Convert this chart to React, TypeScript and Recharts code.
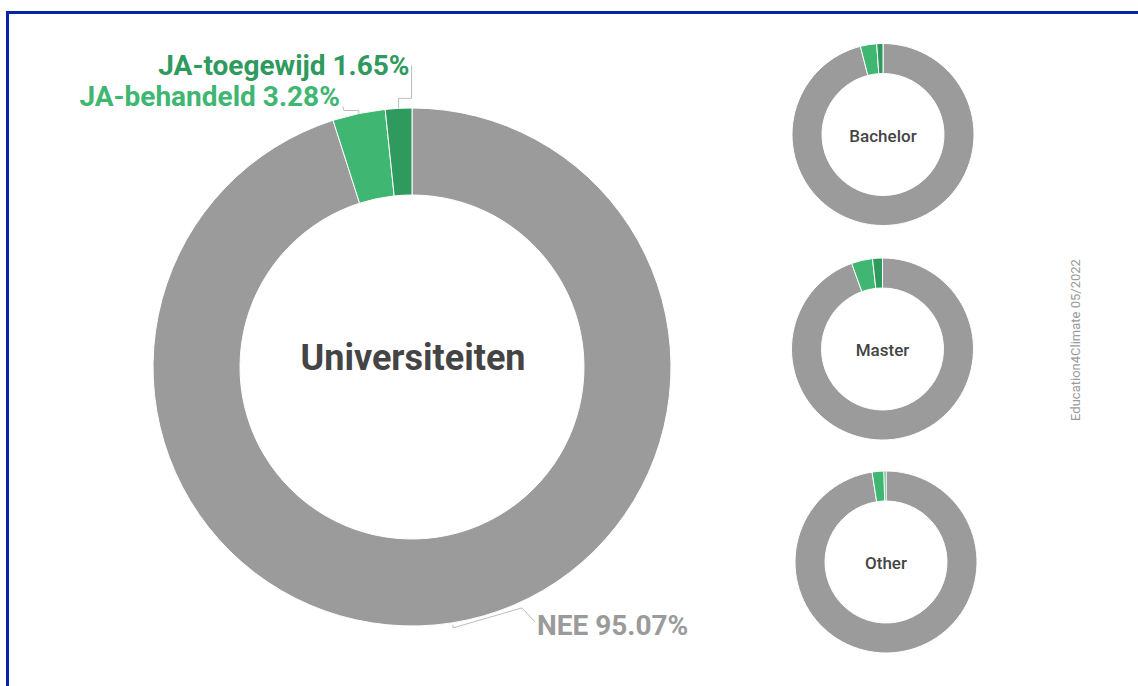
import React from 'react';
import { PieChart, Pie, Cell } from 'recharts';

const segments = ['NEE', 'JA-behandeld', 'JA-toegewijd'];
const universiteiten = [95.07, 3.28, 1.65];
const bachelor = [96.0, 2.9, 1.1];
const master = [94.5, 3.75, 1.75];
const other = [97.55, 2.1, 0.35];
const colors = ['#9a9b9a', '#40b673', '#2f9a5e'];
const labelColors = ['#9a9b9a', '#40b673', '#2f9a5e'];

const toData = (values: number[]) => segments.map((name, i) => ({ name, value: values[i] }));

const RAD = Math.PI / 180;

const BIG = { cx: 412, cy: 367, inner: 172, outer: 259 };

const renderBigLabel = (props: any) => {
  const { cx, cy, midAngle, outerRadius, index } = props;
  const sx = cx + outerRadius * Math.cos(-midAngle * RAD);
  const sy = cy + outerRadius * Math.sin(-midAngle * RAD);
  const text = `${segments[index]} ${universiteiten[index].toFixed(2)}%`;
  let pts: number[][] = [];
  let tx = 0;
  let ty = 0;
  let anchor: 'start' | 'end' = 'end';
  if (index === 2) {
    pts = [[sx, sy], [sx, sy - 10], [sx + 13, sy - 10], [sx + 13, sy - 43]];
    tx = sx + 11;
    ty = sy - 33;
  } else if (index === 1) {
    pts = [[sx, sy], [sx, sy - 3], [sx - 15, sy - 3], [sx - 16, sy - 7]];
    tx = sx - 19;
    ty = sy - 8;
  } else {
    pts = [[sx + 1, sy + 2], [sx + 1, sy + 5], [sx + 70, sy - 15], [sx + 83, sy - 1]];
    tx = sx + 85;
    ty = sy + 12;
    anchor = 'start';
  }
  return (
    <g key={`lbl-${index}`}>
      <polyline
        points={pts.map((p) => p.join(',')).join(' ')}
        fill="none"
        stroke="#bdbdbd"
        strokeWidth={1}
      />
      <text
        x={tx}
        y={ty}
        textAnchor={anchor}
        fill={labelColors[index]}
        fontSize={28}
        fontWeight={700}
        fontFamily="Roboto"
      >
        {text}
      </text>
    </g>
  );
};

const smallPies = [
  { key: 'Bachelor', values: bachelor, cx: 883, cy: 134.5 },
  { key: 'Master', values: master, cx: 882.5, cy: 349 },
  { key: 'Other', values: other, cx: 886, cy: 562 },
];

const centerText = (text: string, x: number, y: number, size: number, weight: number) => (
  <div
    key={text}
    style={{
      position: 'absolute',
      left: x,
      top: y,
      transform: 'translate(-50%, -50%)',
      whiteSpace: 'nowrap',
      fontSize: size,
      fontWeight: weight,
      lineHeight: 1,
      color: '#444444',
      fontFamily: 'Roboto',
    }}
  >
    {text}
  </div>
);

export default function App() {
  return (
    <div
      style={{
        position: 'absolute',
        left: 0,
        top: 0,
        width: 1138,
        height: 686,
        overflow: 'hidden',
        background: '#fff',
        fontFamily: 'Roboto',
      }}
    >
      <div
        style={{
          position: 'absolute',
          left: 6,
          top: 11,
          width: 1300,
          height: 900,
          border: '3px solid #0524a8',
          boxSizing: 'border-box',
        }}
      />
      <div style={{ position: 'absolute', left: 0, top: 0 }}>
        <PieChart width={1138} height={686} margin={{ top: 0, right: 0, bottom: 0, left: 0 }}>
          <Pie
            data={toData(universiteiten)}
            dataKey="value"
            nameKey="name"
            cx={BIG.cx}
            cy={BIG.cy}
            innerRadius={BIG.inner}
            outerRadius={BIG.outer}
            startAngle={90}
            endAngle={-270}
            stroke="#ffffff"
            strokeWidth={1}
            label={renderBigLabel}
            labelLine={false}
            isAnimationActive={false}
          >
            {universiteiten.map((_, i) => (
              <Cell key={`u-${i}`} fill={colors[i]} />
            ))}
          </Pie>
          {smallPies.map((sp) => (
            <Pie
              key={sp.key}
              data={toData(sp.values)}
              dataKey="value"
              nameKey="name"
              cx={sp.cx}
              cy={sp.cy}
              innerRadius={61}
              outerRadius={91}
              startAngle={90}
              endAngle={-270}
              stroke="#ffffff"
              strokeWidth={1}
              isAnimationActive={false}
            >
              {sp.values.map((_, i) => (
                <Cell key={`${sp.key}-${i}`} fill={colors[i]} />
              ))}
            </Pie>
          ))}
        </PieChart>
      </div>
      {centerText('Universiteiten', BIG.cx + 1, BIG.cy - 9, 36, 700)}
      {smallPies.map((sp) => centerText(sp.key, sp.cx, sp.cy + 1, 17, 500))}
      <div
        style={{
          position: 'absolute',
          left: 1075,
          top: 340,
          transform: 'translate(-50%, -50%) rotate(-90deg)',
          whiteSpace: 'nowrap',
          fontSize: 13,
          color: '#9a9a9a',
          fontFamily: 'Roboto',
        }}
      >
        Education4Climate 05/2022
      </div>
    </div>
  );
}
